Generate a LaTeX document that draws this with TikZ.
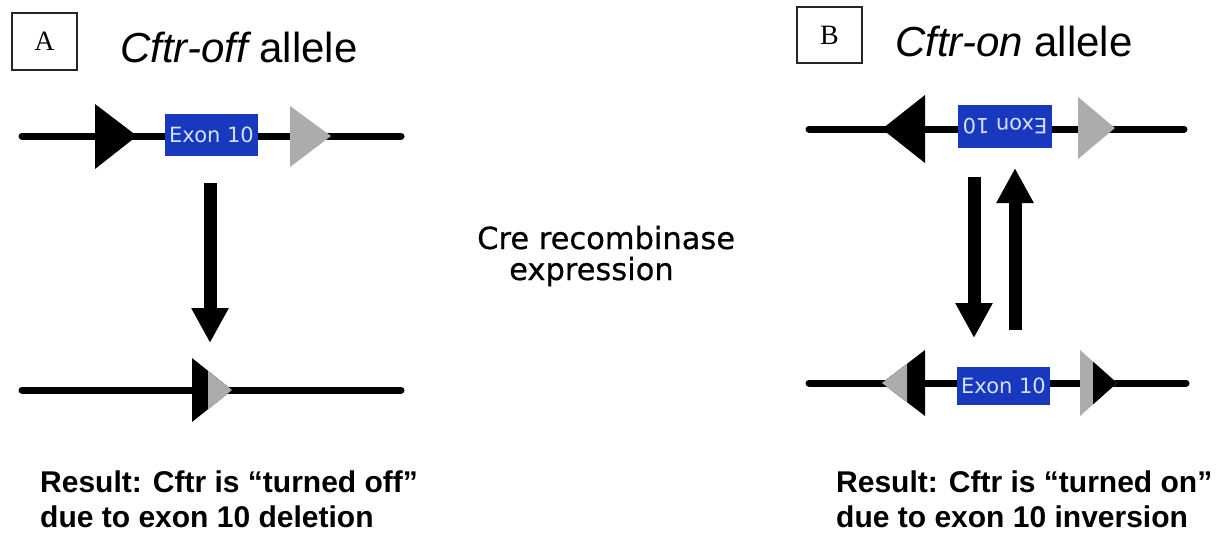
\documentclass[tikz,border=0pt]{standalone}
\usepackage{fontspec}
\setmainfont{Liberation Serif}
\newfontfamily\arialfont{Liberation Sans}
\newfontfamily\dvfont{DejaVu Sans}
\newfontfamily\dvheavy[FakeBold=0.6]{DejaVu Sans}
\usetikzlibrary{arrows.meta}
\definecolor{exonblue}{RGB}{24,56,190}
\definecolor{exontext}{RGB}{212,224,255}
\definecolor{loxgray}{RGB}{172,172,172}
\tikzset{
  dna/.style={line width=7pt, line cap=round, black},
  loxblack/.style={fill=black},
  loxgrey/.style={fill=loxgray},
  exon/.style={rectangle, fill=exonblue, inner sep=0pt, text=exontext,
    font=\dvfont\fontsize{21}{24}\selectfont},
  bigarrow/.style={line width=13pt, black, -{Triangle[width=35pt,length=35pt]}},
  panellabel/.style={rectangle, draw=black!85, line width=1.1pt, inner sep=0pt,
    minimum width=65pt, font=\fontsize{28}{30}\selectfont},
  title/.style={anchor=base west, inner sep=0pt, font=\arialfont\fontsize{42}{48}\selectfont},
  result/.style={anchor=base west, inner sep=0pt, font=\arialfont\bfseries\fontsize{30}{36}\selectfont},
  crelabel/.style={anchor=base west, inner sep=0pt, font=\dvheavy\fontsize{30.5}{36}\selectfont}
}
\begin{document}
\begin{tikzpicture}[x=1pt,y=-1pt]
\useasboundingbox[fill=white] (0,0) rectangle (1218,536);

% ---------- Panel A: headings ----------
\node[panellabel, minimum height=57pt] (labA) at (44.5,41.5) {A};
\node[title] (titA) at (120,62) {\itshape Cftr-off\upshape{} allele};

% Panel A, floxed allele
\coordinate (aTL) at (22,136);
\coordinate (aTR) at (401,136);
\draw[dna] (aTL) -- (aTR);
\fill[loxblack] (95,104) -- (95,169) -- (137,136) -- cycle;
\fill[loxgrey] (290,106) -- (290,167) -- (331,136) -- cycle;
\node[exon, minimum width=93pt, minimum height=42pt] (exA) at (211.5,135) {Exon 10};

% Panel A, Cre-mediated deletion
\coordinate (arAs) at (210,183);
\coordinate (arAe) at (210,343);
\draw[bigarrow] (arAs) -- (arAe);

% Panel A, deleted allele
\coordinate (aBL) at (22,390);
\coordinate (aBR) at (401,390);
\draw[dna] (aBL) -- (aBR);
\fill[loxblack] (192,358) -- (192,422) -- (232,390) -- cycle;
\fill[loxgrey] (208,370.8) -- (208,409.2) -- (232,390) -- cycle;

\node[result] (resA1) at (40,492) {Result: Cftr is “turned off”};
\node[result] (resA2) at (40,527) {due to exon 10 deletion};

% ---------- Centre caption ----------
\node[crelabel] (cre1) at (477,249) {Cre recombinase};
\node[crelabel] (cre2) at (509,280) {expression};

% ---------- Panel B: headings ----------
\node[panellabel, minimum height=56pt] (labB) at (829.5,35) {B};
\node[title] (titB) at (895,56) {\itshape Cftr-on\upshape{} allele};

% Panel B, inverted allele
\coordinate (bTL) at (809,129);
\coordinate (bTR) at (1184,129);
\draw[dna] (bTL) -- (bTR);
\fill[loxblack] (925,95) -- (925,163) -- (882,129) -- cycle;
\fill[loxgrey] (1078,97) -- (1078,159) -- (1115,128) -- cycle;
\node[exon, minimum width=94pt, minimum height=43pt] (exB1) at (1005,126.5) {\rotatebox{180}{Exon 10}};

% Panel B, reversible inversion
\coordinate (dnS) at (974,177);
\coordinate (dnE) at (974,338);
\draw[bigarrow] (dnS) -- (dnE);
\coordinate (upS) at (1015,330);
\coordinate (upE) at (1015,168);
\draw[bigarrow] (upS) -- (upE);

% Panel B, restored allele
\coordinate (bBL) at (809,383);
\coordinate (bBR) at (1186,383);
\draw[dna] (bBL) -- (bBR);
\fill[loxblack] (925,350) -- (925,416) -- (882,383) -- cycle;
\fill[loxgrey] (907,363.8) -- (907,402.2) -- (882,383) -- cycle;
\fill[loxgrey] (1080,350) -- (1080,416) -- (1117,383) -- cycle;
\fill[loxblack] (1093,361.6) -- (1093,404.4) -- (1117,383) -- cycle;
\node[exon, minimum width=93pt, minimum height=38pt] (exB2) at (1003.5,386) {Exon 10};

\node[result] (resB1) at (836,492) {Result: Cftr is “turned on”};
\node[result] (resB2) at (836,527) {due to exon 10 inversion};
\end{tikzpicture}
\end{document}
